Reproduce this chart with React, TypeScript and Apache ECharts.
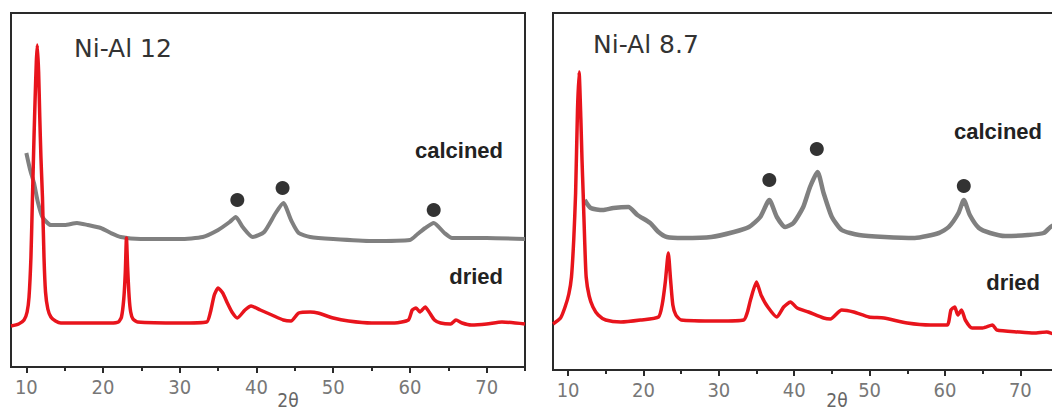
import React, { useEffect, useRef } from "react";
import * as echarts from "echarts";

// 2θ tick values
const majorTicks = [10, 20, 30, 40, 50, 60, 70];
const minorTicks = [15, 25, 35, 45, 55, 65, 75];

// Ni-Al 12 panel: [2θ, intensity (a.u.)]
const al12Dried = [
  [8, 41], [9, 43], [9.7, 47], [10.1, 55], [10.35, 70], [10.6, 110], [10.8, 170], [11.0, 230],
  [11.15, 270], [11.3, 305], [11.43, 322], [11.6, 295], [11.75, 250], [11.9, 210], [12.1, 170],
  [12.3, 110], [12.5, 75], [12.8, 58], [13.2, 50], [13.8, 46], [14.5, 44], [16, 44], [19, 44],
  [21, 44], [22.0, 45], [22.4, 50], [22.7, 68], [22.9, 95], [23.05, 129], [23.2, 100],
  [23.4, 70], [23.6, 55], [23.9, 48], [24.5, 45], [30, 44],
  [33.5, 45], [34.0, 55], [34.5, 72], [35.0, 79], [35.6, 74], [36.2, 64], [36.8, 55],
  [37.5, 49], [38.5, 57], [39.3, 61], [40.5, 57], [42, 52], [43.5, 47], [44.5, 46],
  [45.5, 54], [47, 55], [48, 54], [50, 49], [52, 46], [55, 44], [58, 44], [59.8, 47],
  [60.3, 57], [60.8, 59], [61.3, 55], [62.0, 60], [62.5, 55], [63.2, 47], [64, 44],
  [65.3, 43], [66.0, 47], [66.8, 44], [68, 42], [70, 43], [72, 45], [75, 43],
];
const al12Calcined = [
  [10.0, 214], [10.5, 197], [11.0, 184], [11.5, 165], [12.1, 150], [13.2, 142], [15, 142],
  [16.6, 144], [18, 142], [19.7, 139], [21, 134], [22.3, 130], [24.9, 128], [30, 128],
  [33, 130], [35, 137], [36.5, 145], [37.3, 150], [38.2, 140], [39.5, 130], [41, 135],
  [42.5, 154], [43.5, 164], [44.5, 147], [45.5, 134], [47, 130], [50, 128], [55, 126],
  [60, 127], [61, 133], [62, 139], [63.1, 144], [64.5, 134], [65.5, 129], [70, 129], [75, 128],
];
const al12Markers = [[37.5, 167], [43.4, 179], [63.1, 157]];

// Ni-Al 8.7 panel
const al87Dried = [
  [8.0, 46], [9.0, 52], [9.6, 63], [10.1, 76], [10.45, 93], [10.75, 130], [11.0, 177],
  [11.25, 260], [11.46, 298], [11.7, 250], [11.85, 210], [12.0, 177], [12.2, 130],
  [12.4, 93], [12.8, 74], [13.3, 63], [14, 55], [15, 50], [17, 48], [19.6, 50], [22.0, 53],
  [22.5, 66], [22.9, 88], [23.3, 117], [23.6, 90], [23.9, 65], [24.3, 55], [25, 50],
  [30, 49], [33.3, 50], [33.8, 58], [34.2, 70], [35.0, 88], [35.6, 75], [36.5, 63],
  [37.7, 53], [38.6, 63], [39.5, 68], [40.4, 62], [41.9, 58], [43.9, 52], [44.8, 51],
  [46.3, 60], [47.9, 58], [49.9, 53], [51.9, 52], [55, 47], [58.1, 45], [60.3, 45],
  [60.8, 60], [61.3, 63], [61.7, 55], [62.2, 60], [62.7, 50], [63.6, 42], [65, 42],
  [66.3, 45], [66.9, 40], [69.8, 38], [71.8, 37], [73.5, 38], [75, 34],
];
const al87Calcined = [
  [12.2, 170], [13, 162], [14.6, 160], [16, 162], [18.0, 163], [19.2, 155], [20.9, 147],
  [22, 138], [23.1, 133], [25.3, 132], [29, 133], [32, 138], [34, 143], [35.5, 153],
  [36.7, 170], [37.7, 153], [38.8, 143], [39.9, 147], [41.2, 163], [42.1, 183], [43.1, 198],
  [43.9, 177], [45.0, 153], [46.3, 140], [48.6, 135], [52, 133], [56, 132], [59.2, 137],
  [60.5, 143], [61.8, 157], [62.5, 170], [63.3, 155], [64.5, 142], [66, 137], [68, 134],
  [71, 135], [73.1, 137], [74, 143], [75, 147],
];
const al87Markers = [[36.7, 190], [43.0, 221], [62.5, 184]];

const RED = "#e8141c";
const GRAY = "#808080";
const AXIS = "#2a2a2a";
const TICK_FONT = "'Liberation Sans Narrow', 'DejaVu Sans Condensed', 'Liberation Sans', Arial, sans-serif";

function xAxes(gridIndex: number) {
  return [
    {
      type: "value", gridIndex, min: 8, max: 75, position: "bottom",
      axisLine: { show: true, onZero: false, lineStyle: { color: AXIS, width: 2 } },
      axisTick: { show: true, customValues: majorTicks, length: 6, lineStyle: { color: AXIS, width: 2 } },
      axisLabel: { customValues: majorTicks, margin: 10, color: "#777", fontSize: 20, fontFamily: TICK_FONT },
      splitLine: { show: false },
    },
    {
      type: "value", gridIndex, min: 8, max: 75, position: "bottom",
      axisLine: { show: false, onZero: false },
      axisTick: { show: true, customValues: minorTicks, length: 4, lineStyle: { color: AXIS, width: 2 } },
      axisLabel: { show: false },
      splitLine: { show: false },
    },
  ];
}

function panelSeries(xIdx: number, yIdx: number, calc: number[][], dried: number[][], marks: number[][], grayWidth: number) {
  return [
    { type: "line", xAxisIndex: xIdx, yAxisIndex: yIdx, data: calc, showSymbol: false, symbol: "none",
      smooth: 0.2, lineStyle: { color: GRAY, width: grayWidth }, z: 2 },
    { type: "line", xAxisIndex: xIdx, yAxisIndex: yIdx, data: dried, showSymbol: false, symbol: "none",
      smooth: 0.2, lineStyle: { color: RED, width: 3.5 }, z: 3 },
    { type: "scatter", xAxisIndex: xIdx, yAxisIndex: yIdx, data: marks, symbolSize: 14,
      itemStyle: { color: "#000" }, z: 4 },
  ];
}

export default function App() {
  const ref = useRef<HTMLDivElement>(null);
  useEffect(() => {
    if (!ref.current) return;
    const chart = echarts.init(ref.current, null, { renderer: "svg" });
    const titleStyle = { fontFamily: "'DejaVu Sans', sans-serif", fontSize: 25, fill: "#333" };
    const tagStyle = { fontFamily: "'Liberation Sans', Arial, sans-serif", fontSize: 22, fontWeight: "bold", fill: "#222" };
    const nameStyle = { fontFamily: TICK_FONT, fontSize: 19, fill: "#666" };
    chart.setOption({
      animation: false,
      grid: [
        { left: 11, top: 13, width: 514, height: 354, show: true, borderColor: AXIS, borderWidth: 2, backgroundColor: "transparent" },
        { left: 553, top: 13, width: 505, height: 357, show: true, borderColor: AXIS, borderWidth: 2, backgroundColor: "transparent" },
      ],
      xAxis: [...xAxes(0), ...xAxes(1)],
      yAxis: [
        { type: "value", gridIndex: 0, min: 0, max: 354, show: false },
        { type: "value", gridIndex: 1, min: 0, max: 357, show: false },
      ],
      series: [
        ...panelSeries(0, 0, al12Calcined, al12Dried, al12Markers, 4),
        ...panelSeries(2, 1, al87Calcined, al87Dried, al87Markers, 4.5),
      ],
      graphic: [
        { type: "text", left: 74, top: 36, style: { ...titleStyle, text: "Ni-Al 12" } },
        { type: "text", x: 503, y: 150, style: { ...tagStyle, text: "calcined", align: "right", verticalAlign: "middle" } },
        { type: "text", x: 503, y: 276, style: { ...tagStyle, text: "dried", align: "right", verticalAlign: "middle" } },
        { type: "text", x: 288, y: 400, style: { ...nameStyle, text: "2θ", align: "center", verticalAlign: "middle" } },
        { type: "text", left: 593, top: 32, style: { ...titleStyle, text: "Ni-Al 8.7" } },
        { type: "text", x: 1042, y: 131, style: { ...tagStyle, text: "calcined", align: "right", verticalAlign: "middle" } },
        { type: "text", x: 1040, y: 282, style: { ...tagStyle, text: "dried", align: "right", verticalAlign: "middle" } },
        { type: "text", x: 837, y: 400, style: { ...nameStyle, text: "2θ", align: "center", verticalAlign: "middle" } },
      ],
    });
    return () => chart.dispose();
  }, []);
  return (
    <div style={{ position: "absolute", left: 0, top: 0, width: 1052, height: 414, overflow: "hidden", background: "#fff" }}>
      <div ref={ref} style={{ width: 1070, height: 414 }} />
    </div>
  );
}
